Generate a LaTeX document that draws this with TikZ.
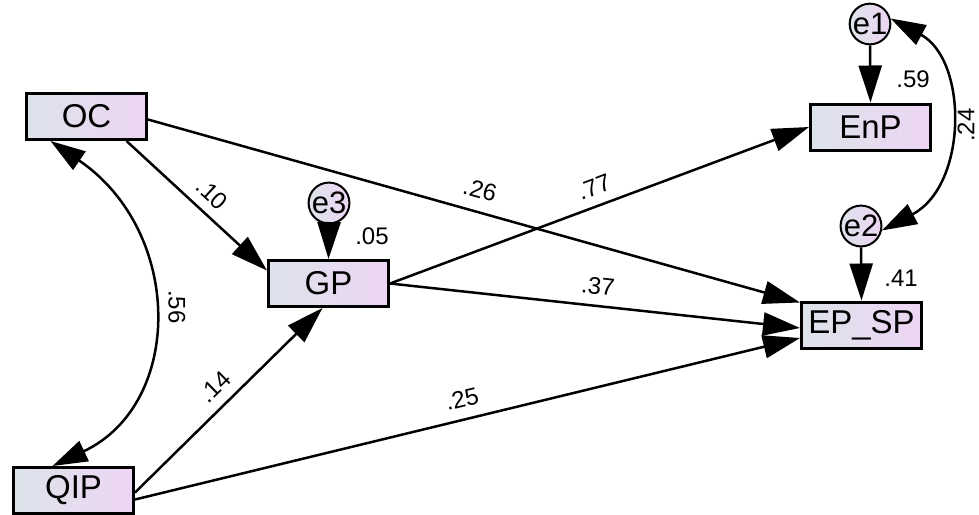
\documentclass[tikz,border=0pt]{standalone}
\usepackage{fontspec}
\setmainfont{Liberation Sans}
\usetikzlibrary{arrows.meta}

\definecolor{boxL}{RGB}{221,227,235}
\definecolor{boxR}{RGB}{237,213,243}

\newcommand{\varfont}{\fontsize{33}{38}\selectfont}
\newcommand{\errfont}{\fontsize{31}{35}\selectfont}
\newcommand{\coeffont}{\fontsize{24}{28}\selectfont}

\begin{document}
\begin{tikzpicture}[x=1pt, y=-1pt,
  var/.style={draw, line width=3pt, minimum width=120pt, minimum height=46pt,
    inner sep=0pt, left color=boxL, right color=boxR, font=\varfont},
  err/.style={circle, draw, line width=2pt, minimum size=36pt, inner sep=0pt,
    left color=boxL, right color=boxR, font=\errfont},
  coef/.style={font=\coeffont, inner sep=0pt},
  path/.style={line width=2.5pt, -{Triangle[length=37pt, width=23pt]}},
  cov/.style={line width=2.5pt, {Triangle[length=35pt, width=22pt]}-{Triangle[length=35pt, width=22pt]}},
]
\useasboundingbox (0,0) rectangle (979,514);

% observed variables
\node[var] (OC)   at (86.5,116.5) {OC};
\node[var] (GP)   at (328.5,283.5) {GP};
\node[var] (EnP)  at (870.5,127) {EnP};
\node[var] (EPSP) at (861.5,325) {EP\_SP};
\node[var] (QIP)  at (73.5,490.5) {QIP};

% residuals
\node[err] (e1) at (870,24) {e1};
\node[err] (e2) at (861,226) {e2};
\node[err] (e3) at (329,203) {e3};

% regression paths
\draw[path] ([xshift=40pt]OC.south) -- ([yshift=13pt]GP.west);
\draw[path] ([yshift=-3pt]OC.east) -- ([yshift=-2pt]EPSP.north west);
\draw[path] (GP.east) -- (EnP.west);
\draw[path] (GP.east) -- ([yshift=-3pt]EPSP.west);
\draw[path] ([yshift=-2pt]QIP.east) -- ([xshift=-6pt]GP.south);
\draw[path] ([yshift=-9pt]QIP.east) -- ([yshift=-13pt]EPSP.west);

% residual paths
\draw[path] (e3.south) -- (GP.north);
\draw[path] (e1.south) -- (EnP.north);
\draw[path] (e2.south) -- (EPSP.north);

% covariances
\draw[cov] ([xshift=-36pt]OC.south) .. controls (184,232) and (184,404) .. ([xshift=-21pt]QIP.north);
\draw[cov] (e1.15) .. controls (968,60) and (968,185) .. (e2.-12);

% coefficients
\node[coef, rotate=-42.6] (cOCGP)   at (212,194) {.10};
\node[coef, rotate=-15.5] (cOCEP)   at (480,190) {.26};
\node[coef, rotate=20.7]  (cGPEnP)  at (594,187) {.77};
\node[coef, rotate=-6.2]  (cGPEP)   at (598,286) {.37};
\node[coef, rotate=44.5]  (cQIPGP)  at (215,387) {.14};
\node[coef, rotate=13.6]  (cQIPEP)  at (462,399) {.25};
\node[coef, rotate=-90]   (cOCQIP)  at (177,307) {.56};
\node[coef, rotate=90]    (ce1e2)   at (966,125) {.24};
\node[coef] (rGP)   at (372,236) {.05};
\node[coef] (rEnP)  at (913,79)  {.59};
\node[coef] (rEPSP) at (901,278) {.41};
\end{tikzpicture}
\end{document}
